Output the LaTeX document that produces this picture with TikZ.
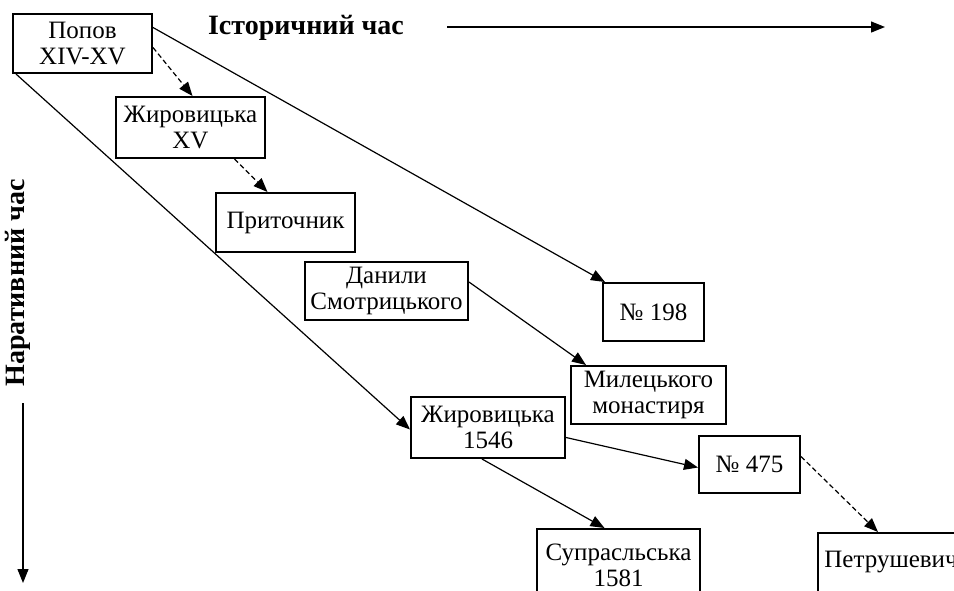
\documentclass[tikz,border=0pt]{standalone}
\usepackage{fontspec}
\setmainfont{Liberation Serif}
\usetikzlibrary{arrows.meta}

\begin{document}
\begin{tikzpicture}[x=0.5pt, y=-0.5pt,
  box/.style={draw, line width=1pt, align=center, inner sep=0pt,
    font=\fontsize{12.5}{13}\selectfont},
  link/.style={line width=0.6pt, -{Triangle[length=7pt,width=5.5pt]}},
  dlink/.style={link, dash pattern=on 2.5pt off 1.5pt},
  axistitle/.style={font=\fontsize{14}{14}\selectfont\bfseries}]
  \clip (0,0) rectangle (954,590);
  % Axes
  \node[axistitle] (histlabel) at (306,28) {Історичний час};
  \coordinate (hstart) at (447,27);
  \coordinate (hend) at (885,27);
  \draw[link] (hstart) -- (hend);
  \node[axistitle, rotate=90] (narrlabel) at (18,283) {Наративний час};
  \coordinate (vstart) at (23,403);
  \coordinate (vend) at (23,583);
  \draw[link] (vstart) -- (vend);
  % Manuscripts
  \node[box, minimum width=69.5pt, minimum height=29.5pt] (popov) at (82.5,43.5) {Попов\\XIV-XV};
  \node[box, minimum width=74.5pt, minimum height=30.5pt] (zhyrXV) at (190.5,127.5) {Жировицька\\XV};
  \node[box, minimum width=69.5pt, minimum height=29.5pt] (prytochnyk) at (285.5,222.5) {Приточник};
  \node[box, minimum width=81.5pt, minimum height=29pt] (danyly) at (386.5,291) {Данили\\Смотрицького};
  \node[box, minimum width=50.5pt, minimum height=29pt] (n198) at (653.5,312) {№ 198};
  \node[box, minimum width=77.5pt, minimum height=29pt] (mylec) at (648.5,395) {Милецького\\монастиря};
  \node[box, minimum width=77pt, minimum height=30.5pt] (zhyr1546) at (488,427.5) {Жировицька\\1546};
  \node[box, minimum width=50.5pt, minimum height=28.5pt] (n475) at (749.5,464.5) {№ 475};
  \node[box, minimum width=81.5pt, minimum height=36.5pt] (supr) at (618.5,565.5) {Супрасльська\\1581};
  \node[box, minimum width=73pt, minimum height=29.5pt] (petrush) at (891,562.5) {Петрушевич};
  % Links
  \draw[link] ([yshift=8pt]popov.east) -- ([xshift=1.5pt]n198.north west);
  \draw[dlink] ([yshift=-2pt]popov.east) -- ([xshift=1pt]zhyrXV.north);
  \draw[link] ([xshift=2pt]popov.south west) -- ([yshift=-1pt]zhyr1546.west);
  \draw[dlink] ([xshift=22pt]zhyrXV.south) -- ([xshift=-9pt]prytochnyk.north);
  \draw[link] ([yshift=4.5pt]danyly.east) -- ([xshift=8pt]mylec.north west);
  \draw[link] ([yshift=-5pt]zhyr1546.east) -- ([yshift=-1.5pt]n475.west);
  \draw[link] ([xshift=-3pt]zhyr1546.south) -- ([xshift=-7pt]supr.north);
  \draw[dlink] ([yshift=4pt]n475.east) -- ([xshift=-6.5pt]petrush.north);
\end{tikzpicture}
\end{document}
